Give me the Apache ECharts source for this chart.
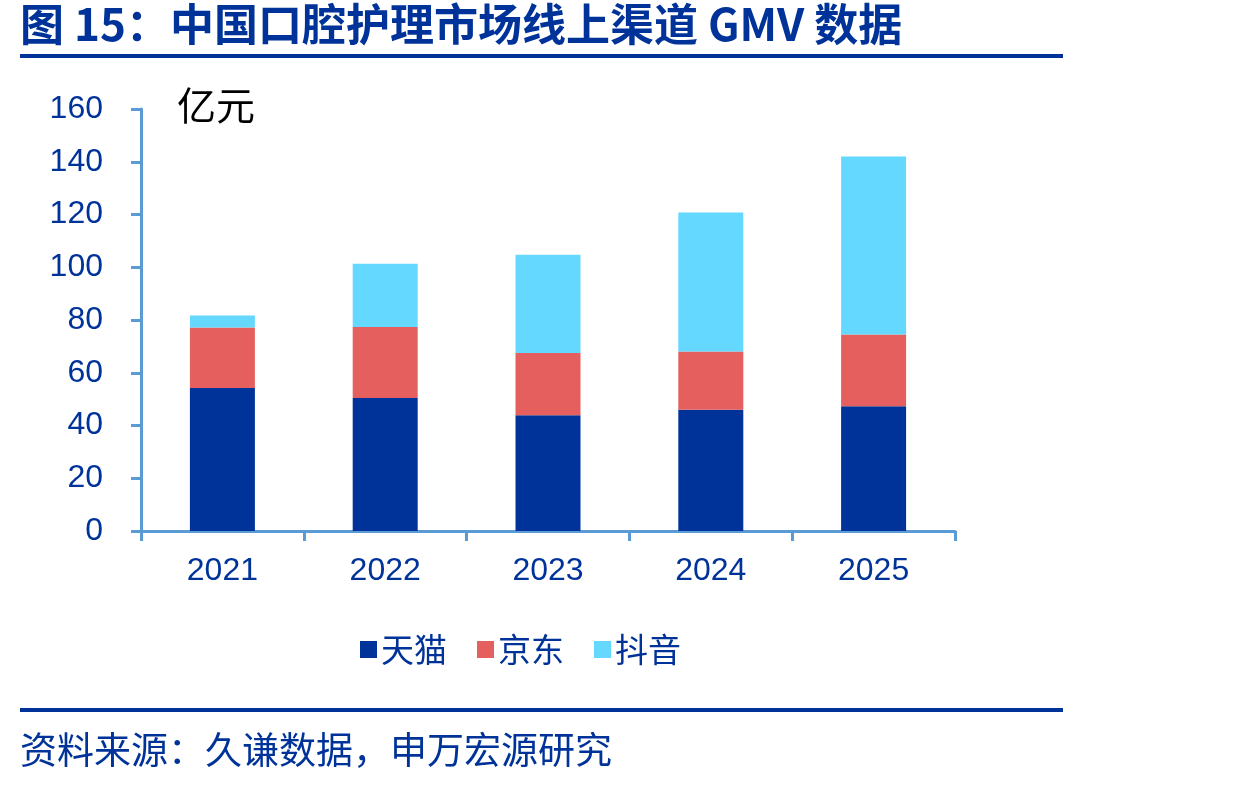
<!DOCTYPE html>
<html>
<head>
<meta charset="utf-8">
<script src="https://cdn.jsdelivr.net/npm/echarts@6/dist/echarts.min.js"></script>
<style>
html, body { margin: 0; padding: 0; background: #fff; }
#chart { width: 1234px; height: 787px; }
</style>
</head>
<body>
<div id="chart"></div>
<script>
// 数据
var years = ['2021', '2022', '2023', '2024', '2025'];
var tmall = [54.2, 50.4, 43.9, 46.0, 47.3];
var jd = [23.0, 26.9, 23.6, 22.1, 27.2];
var douyin = [4.5, 24.0, 37.2, 52.7, 67.5];
var seriesNames = ['天猫', '京东', '抖音'];

var blue = '#003399';
var axisBlue = '#5B9BD5';
var cjk = '"Noto Sans CJK SC", "Liberation Sans", sans-serif';
var latin = '"Liberation Sans", Arial, sans-serif';

var chart = echarts.init(document.getElementById('chart'));
chart.setOption({
    animation: false,
    color: [blue, '#E65F5F', '#64D8FF'],
    grid: {
        left: 141,
        right: 279,
        top: 109,
        bottom: 256
    },
    legend: {
        data: seriesNames,
        left: 355,
        top: 628,
        itemWidth: 17,
        itemHeight: 17,
        itemGap: 30,
        icon: 'rect',
        textStyle: {
            color: blue,
            fontSize: 33,
            fontFamily: cjk,
            padding: [0, 0, 0, -1]
        }
    },
    xAxis: {
        type: 'category',
        data: years,
        axisLine: { lineStyle: { color: axisBlue, width: 3 } },
        axisTick: { show: true, length: 10, lineStyle: { color: axisBlue, width: 3 } },
        axisLabel: {
            color: blue,
            fontSize: 32,
            fontFamily: latin,
            margin: 24
        }
    },
    yAxis: {
        type: 'value',
        min: 0,
        max: 160,
        interval: 20,
        splitLine: { show: false },
        axisLine: { show: true, lineStyle: { color: axisBlue, width: 3 } },
        axisTick: { show: true, length: 10, lineStyle: { color: axisBlue, width: 3 } },
        axisLabel: {
            color: blue,
            fontSize: 32,
            fontFamily: latin,
            margin: 38
        }
    },
    series: [
        { name: seriesNames[0], type: 'bar', stack: 'gmv', barWidth: 65, data: tmall },
        { name: seriesNames[1], type: 'bar', stack: 'gmv', barWidth: 65, data: jd },
        { name: seriesNames[2], type: 'bar', stack: 'gmv', barWidth: 65, data: douyin }
    ],
    graphic: [
        {
            type: 'text', left: 20, top: 2,
            style: { text: '图 15：中国口腔护理市场线上渠道 GMV 数据', fill: blue,
                font: 'bold 44px ' + cjk }
        },
        {
            type: 'rect', shape: { x: 20, y: 54, width: 1043, height: 4 },
            style: { fill: blue }
        },
        {
            type: 'text', left: 177, top: 86,
            style: { text: '亿元', fill: '#000', font: '39px ' + cjk }
        },
        {
            type: 'rect', shape: { x: 20, y: 708, width: 1043, height: 4 },
            style: { fill: blue }
        },
        {
            type: 'text', left: 20, top: 731,
            style: { text: '资料来源：久谦数据，申万宏源研究', fill: blue,
                font: '37px ' + cjk }
        }
    ]
});
</script>
</body>
</html>
